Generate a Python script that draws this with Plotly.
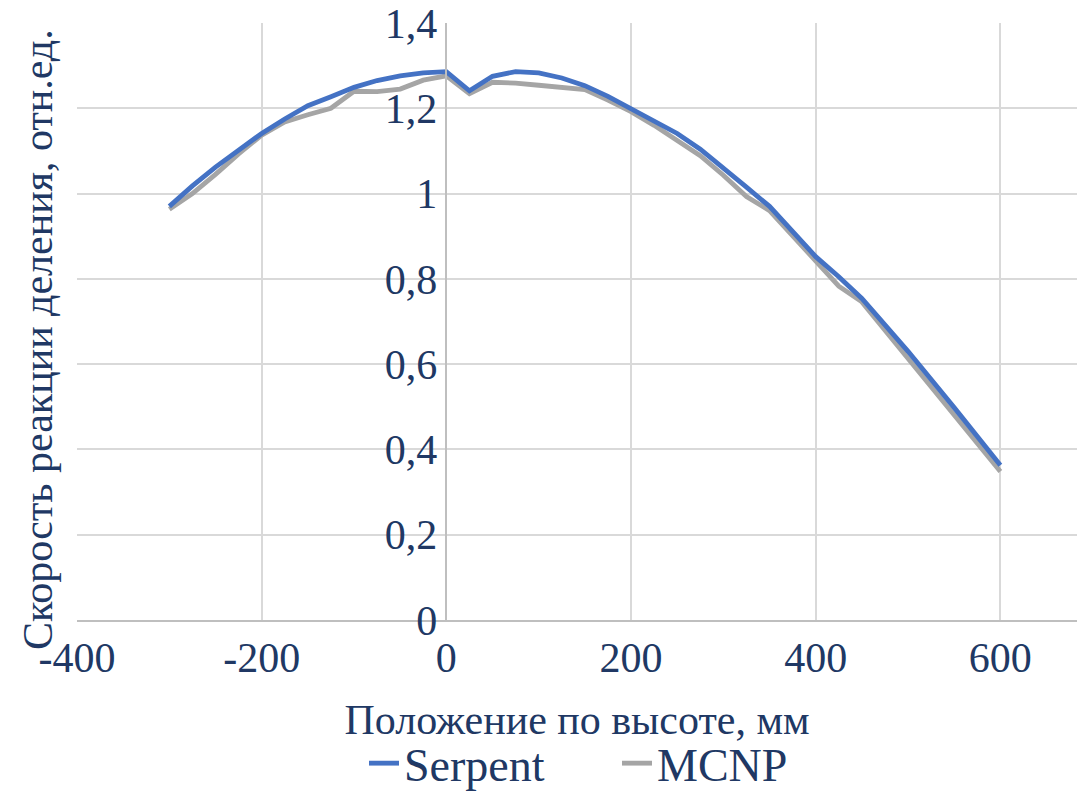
import plotly.graph_objects as go

x_mm = [-300, -275, -250, -225, -200, -175, -150, -125, -100, -75, -50, -25, 0,
        25, 50, 75, 100, 125, 150, 175, 200, 225, 250, 275, 300, 325, 350, 375,
        400, 425, 450, 475, 500, 550, 600]

serpent = [0.970, 1.018, 1.062, 1.102, 1.141, 1.175, 1.206, 1.227, 1.249, 1.265,
           1.276, 1.283, 1.286, 1.241, 1.275, 1.286, 1.283, 1.271, 1.253, 1.228,
           1.200, 1.171, 1.141, 1.104, 1.058, 1.015, 0.970, 0.912, 0.852, 0.805,
           0.754, 0.692, 0.630, 0.498, 0.363]

mcnp = [0.963, 1.000, 1.045, 1.093, 1.137, 1.168, 1.185, 1.200, 1.240, 1.239,
        1.245, 1.266, 1.276, 1.234, 1.261, 1.259, 1.254, 1.250, 1.244, 1.219,
        1.192, 1.160, 1.124, 1.089, 1.043, 0.993, 0.960, 0.900, 0.840, 0.783,
        0.746, 0.680, 0.612, 0.483, 0.348]

x_tick_vals = [-400, -200, 0, 200, 400, 600]
x_tick_text = ["-400", "-200", "0", "200", "400", "600"]

series_names = ["Serpent", "MCNP"]
x_title = "Положение по высоте, мм"
y_title = "Скорость реакции деления, отн.ед."

X_RANGE = [-400, 683]
FONT = "Liberation Serif, Times New Roman, serif"
TXT = "#203864"

fig = go.Figure()
fig.add_trace(go.Scatter(x=x_mm, y=mcnp, mode="lines", name=series_names[1],
                         line=dict(color="#A5A5A5", width=4.8)))
fig.add_trace(go.Scatter(x=x_mm, y=serpent, mode="lines", name=series_names[0],
                         line=dict(color="#4472C4", width=4.8)))

ypos = (0 - X_RANGE[0]) / (X_RANGE[1] - X_RANGE[0])

fig.update_layout(
    width=1079, height=792,
    margin=dict(l=77, r=2, t=23, b=172, autoexpand=False),
    paper_bgcolor="white", plot_bgcolor="white",
    separators=", ",
    font=dict(family=FONT, color=TXT, size=42),
    showlegend=True,
    legend=dict(orientation="h", x=0.287, xanchor="left", y=-0.24, yanchor="middle",
                font=dict(size=46, family=FONT, color=TXT), traceorder="reversed",
                entrywidth=208, entrywidthmode="pixels", bgcolor="rgba(0,0,0,0)"),
    xaxis=dict(range=X_RANGE, tickvals=x_tick_vals, ticktext=x_tick_text,
               showgrid=True, gridcolor="#D9D9D9", automargin=False,
               gridwidth=1.5, zeroline=False, showline=True, linecolor="#BFBFBF",
               linewidth=1.5, ticks="", tickfont=dict(size=42, family=FONT, color=TXT),
               title=dict(text=x_title, font=dict(size=42, family=FONT, color=TXT), standoff=24)),
    yaxis=dict(range=[0, 1.4], dtick=0.2, tick0=0, showgrid=True, gridcolor="#D9D9D9",
               gridwidth=1.5, zeroline=False, showline=True, linecolor="#BFBFBF",
               linewidth=1.5, anchor="free", position=ypos, ticks="", automargin=False,
               tickfont=dict(size=42, family=FONT, color=TXT)),
    annotations=[dict(text=y_title, textangle=-90, xref="paper", yref="paper",
                      x=-0.039, y=0.469, xanchor="center", yanchor="middle",
                      showarrow=False, font=dict(size=42, family=FONT, color=TXT))],
)

fig.write_html("out.html")
